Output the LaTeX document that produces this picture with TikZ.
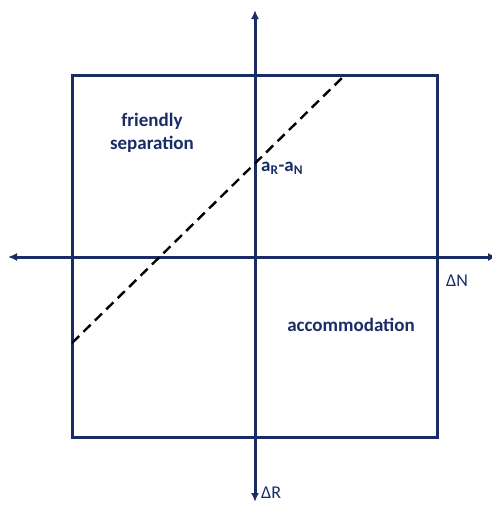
\documentclass[tikz,border=0pt]{standalone}
\usepackage{fontspec}
\setmainfont{Carlito}
\usetikzlibrary{arrows.meta}
\definecolor{navy}{RGB}{24,44,102}
\begin{document}
\begin{tikzpicture}[x=1pt,y=-1pt,
  boxline/.style={draw=navy,line width=3pt},
  axisline/.style={draw=navy,line width=3pt,-{Latex[length=9pt,width=8pt]}},
  lbl/.style={text=navy,font=\fontsize{19}{23}\selectfont\bfseries,align=center,inner sep=0pt},
  axlbl/.style={text=navy,font=\fontsize{18}{21}\selectfont,inner sep=0pt}]
\useasboundingbox (0,0) rectangle (492,506);
\draw[boxline] (72,75) rectangle (437,437);
\coordinate (o) at (255,257);
\coordinate (top) at (255,10);
\coordinate (bot) at (255,502);
\coordinate (lft) at (8,257);
\coordinate (rgt) at (497,257);
\draw[axisline] (o) -- (top);
\draw[axisline] (o) -- (bot);
\draw[axisline] (o) -- (lft);
\draw[axisline] (o) -- (rgt);
\coordinate (d1) at (72,343);
\coordinate (d2) at (345,75);
\draw[black,line width=2.4pt,dash pattern=on 10pt off 6pt] (d1) -- (d2);
\node[lbl] (fs) at (152,133) {friendly\\separation};
\node[lbl] (acc) at (351,325) {accommodation};
\node[lbl,anchor=west] (ar) at (261,168) {a\textsubscript{R}-a\textsubscript{N}};
\node[axlbl] (dn) at (457,281) {ΔN};
\node[axlbl,anchor=west] (dr) at (261,493) {ΔR};
\end{tikzpicture}
\end{document}
